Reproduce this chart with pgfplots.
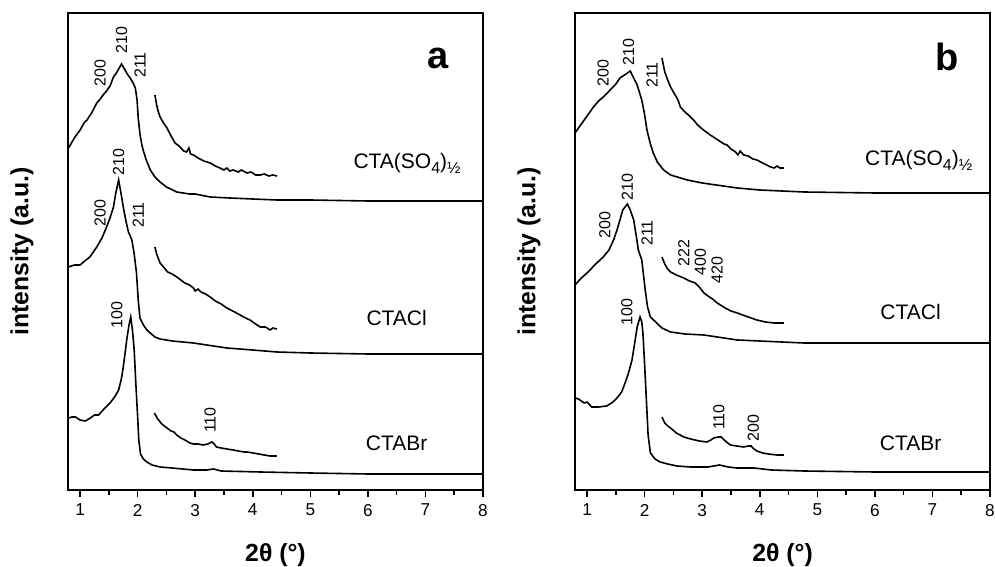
\documentclass[border=0pt]{standalone}
\usepackage{fontspec}
\setmainfont{Liberation Sans}
\usepackage{pgfplots}
\pgfplotsset{compat=1.18}

\pgfplotsset{
  xrd/.style={
    scale only axis, width=207.5pt, height=238.5pt,
    xmin=0.79, xmax=8, ymin=0, ymax=477,
    xtick={1,2,...,8}, minor x tick num=1,
    xtick pos=bottom, ytick=\empty,
    tick align=outside, major tick length=3.5pt, minor tick length=2.5pt,
    axis line style={line width=0.75pt}, every tick/.style={black, line width=0.75pt},
    tick label style={font=\fontsize{8.6}{10}\selectfont},
    /pgf/number format/assume math mode=true,
    xlabel={\textbf{2θ (°)}},
    xlabel style={font=\fontsize{12.4}{14}\selectfont, at={(axis description cs:0.5,-0.136)}, anchor=center},
    ylabel={\textbf{intensity (a.u.)}},
    ylabel style={font=\fontsize{12.4}{14}\selectfont, at={(axis description cs:-0.111,0.5)}, anchor=center},
    clip=false,
    cycle list={{black, solid}},
    every axis plot post/.append style={black, solid, line width=0.8pt, mark=none},
  },
}
\tikzset{
  pk/.style={rotate=90, font=\fontsize{8}{9}\selectfont, inner sep=0pt},
  nm/.style={font=\fontsize{10.5}{12}\selectfont, inner sep=0pt},
  big/.style={font=\fontsize{19}{20}\selectfont\bfseries, inner sep=0pt},
}
\newcommand{\sub}[1]{\raisebox{-0.45ex}{\fontsize{8}{9}\selectfont #1}}

\begin{document}
\begin{tikzpicture}
% ---- panel a ----
\begin{axis}[xrd, name=A, at={(0pt,0pt)}, anchor=south west]
\addplot coordinates {(0.80,342)(0.90,352)(1.00,360)(1.08,368)(1.12,370)(1.20,377)(1.29,387)(1.35,391)(1.40,395)(1.46,399)(1.52,404)(1.58,413)(1.63,417)(1.68,422)(1.72,426)(1.76,422)(1.82,416)(1.87,412)(1.92,407)(1.96,402)(1.99,390)(2.01,372)(2.04,356)(2.07,346)(2.10,339)(2.15,330)(2.22,320)(2.30,313)(2.39,308)(2.50,303)(2.68,298)(2.90,296)(3.00,296)(3.26,293)(3.60,292)(4.00,291)(4.42,290)(5.00,290)(6.00,289)(7.00,289)(8.00,289)};
\addplot coordinates {(2.30,395)(2.33,385)(2.36,378)(2.39,373)(2.45,367)(2.51,362)(2.58,354)(2.65,347)(2.72,344)(2.80,339)(2.85,338)(2.89,342)(2.92,336)(2.97,335)(3.05,332)(3.15,329)(3.26,327)(3.35,324)(3.43,322)(3.50,320)(3.55,322)(3.60,319)(3.66,320)(3.75,318)(3.80,320)(3.90,317)(3.97,318)(4.05,315)(4.13,315)(4.20,316)(4.28,314)(4.35,315)(4.42,314)};
\addplot coordinates {(0.80,223)(0.90,225)(1.00,225)(1.08,229)(1.17,233)(1.23,238)(1.29,243)(1.38,252)(1.46,263)(1.52,272)(1.58,283)(1.62,297)(1.67,310)(1.71,297)(1.75,283)(1.80,268)(1.84,258)(1.90,250)(1.94,236)(1.98,217)(2.01,190)(2.04,172)(2.10,165)(2.16,160)(2.22,157)(2.30,153)(2.39,151)(2.60,149)(2.97,147)(3.20,145)(3.55,142)(4.00,140)(4.42,138)(5.00,137)(6.00,136)(7.00,136)(8.00,136)};
\addplot coordinates {(2.30,243)(2.33,236)(2.39,227)(2.45,223)(2.52,218)(2.60,216)(2.68,213)(2.75,210)(2.82,207)(2.90,205)(2.97,202)(3.00,199)(3.05,201)(3.10,198)(3.18,196)(3.26,193)(3.35,189)(3.45,186)(3.55,182)(3.65,179)(3.75,176)(3.84,173)(3.95,170)(4.05,166)(4.13,163)(4.22,163)(4.30,160)(4.35,162)(4.42,161)};
\addplot coordinates {(0.80,72)(0.86,73)(0.92,73)(1.00,70)(1.09,69)(1.18,72)(1.25,75)(1.32,75)(1.40,80)(1.52,87)(1.60,93)(1.67,100)(1.72,112)(1.75,123)(1.78,136)(1.81,150)(1.85,165)(1.88,173)(1.91,160)(1.94,140)(1.97,105)(2.00,73)(2.02,50)(2.05,36)(2.10,31)(2.16,28)(2.25,25)(2.39,23)(2.60,22)(2.97,20)(3.20,20)(3.32,21)(3.45,19)(4.13,18)(5.00,17)(6.00,16)(8.00,16)};
\addplot coordinates {(2.29,77)(2.35,71)(2.42,66)(2.51,62)(2.58,59)(2.63,58)(2.68,55)(2.75,52)(2.82,50)(2.91,47)(2.97,46)(3.05,46)(3.14,45)(3.22,46)(3.29,48)(3.33,46)(3.37,43)(3.45,42)(3.55,41)(3.66,40)(3.75,39)(3.85,38)(3.90,38)(4.01,37)(4.10,36)(4.20,35)(4.30,34)(4.42,34)};
\node[big] at (axis cs:7.22,432) {a};
\node[nm] at (axis cs:6.68,327) {CTA(SO\sub{4})\sub{½}};
\node[nm] at (axis cs:6.50,172) {CTACl};
\node[nm] at (axis cs:6.50,47) {CTABr};
\node[pk] at (axis cs:1.35,417) {200};
\node[pk] at (axis cs:1.72,450) {210};
\node[pk] at (axis cs:2.04,425) {211};
\node[pk] at (axis cs:1.35,277) {200};
\node[pk] at (axis cs:1.67,328) {210};
\node[pk] at (axis cs:2.01,275) {211};
\node[pk] at (axis cs:1.64,175) {100};
\node[pk] at (axis cs:3.26,70) {110};
\end{axis}
% ---- panel b ----
\begin{axis}[xrd, at={(253.5pt,0pt)}, anchor=south west]
\addplot coordinates {(0.79,357)(0.90,366)(1.00,374)(1.11,383)(1.20,389)(1.30,394)(1.40,400)(1.50,406)(1.57,412)(1.65,415)(1.75,419)(1.80,413)(1.87,405)(1.95,390)(2.00,375)(2.04,360)(2.10,346)(2.15,337)(2.22,328)(2.33,320)(2.45,315)(2.74,310)(3.00,307)(3.61,302)(4.00,300)(4.77,298)(6.00,297)(8.00,297)};
\addplot coordinates {(2.30,432)(2.35,418)(2.40,410)(2.45,403)(2.52,396)(2.58,390)(2.62,383)(2.70,378)(2.78,374)(2.85,370)(2.92,365)(3.00,361)(3.07,358)(3.14,355)(3.22,352)(3.30,349)(3.38,346)(3.43,345)(3.50,341)(3.58,338)(3.62,335)(3.66,339)(3.72,335)(3.80,334)(3.88,331)(3.95,330)(4.05,327)(4.12,325)(4.19,323)(4.25,322)(4.30,324)(4.35,322)(4.42,322)};
\addplot coordinates {(0.79,205)(0.90,212)(1.00,217)(1.05,220)(1.15,226)(1.28,233)(1.38,240)(1.46,250)(1.52,260)(1.57,270)(1.62,280)(1.70,286)(1.75,280)(1.81,270)(1.86,252)(1.89,240)(1.95,230)(1.98,215)(2.01,200)(2.05,183)(2.10,173)(2.21,167)(2.30,162)(2.45,158)(2.70,156)(3.03,155)(3.61,150)(4.00,149)(4.77,147)(6.00,147)(8.00,147)};
\addplot coordinates {(2.30,233)(2.35,226)(2.40,221)(2.45,218)(2.55,215)(2.68,212)(2.78,209)(2.88,207)(2.95,203)(3.03,197)(3.10,194)(3.18,191)(3.26,187)(3.40,182)(3.50,179)(3.61,177)(3.75,174)(3.85,172)(3.95,170)(4.10,168)(4.25,167)(4.42,167)};
\addplot coordinates {(0.79,92)(0.85,91)(0.90,89)(0.95,87)(1.00,88)(1.08,83)(1.20,83)(1.34,84)(1.45,88)(1.52,92)(1.60,98)(1.66,107)(1.72,117)(1.78,130)(1.83,148)(1.87,163)(1.92,173)(1.95,168)(1.97,157)(2.00,125)(2.03,90)(2.06,55)(2.10,37)(2.18,31)(2.27,28)(2.40,26)(2.56,24)(2.80,23)(3.10,23)(3.30,25)(3.45,23)(3.60,22)(3.90,22)(4.20,20)(4.77,19)(6.00,18)(8.00,18)};
\addplot coordinates {(2.30,73)(2.35,67)(2.40,64)(2.45,62)(2.55,57)(2.68,53)(2.80,51)(2.95,49)(3.08,48)(3.15,50)(3.20,52)(3.28,53)(3.33,53)(3.40,49)(3.49,45)(3.60,44)(3.72,43)(3.80,44)(3.85,44)(3.90,41)(3.95,39)(4.05,37)(4.15,36)(4.30,35)(4.42,35)};
\node[big] at (axis cs:7.26,433) {b};
\node[nm] at (axis cs:6.76,330) {CTA(SO\sub{4})\sub{½}};
\node[nm] at (axis cs:6.62,178) {CTACl};
\node[nm] at (axis cs:6.62,47) {CTABr};
\node[pk] at (axis cs:1.28,417) {200};
\node[pk] at (axis cs:1.72,438) {210};
\node[pk] at (axis cs:2.13,415) {211};
\node[pk] at (axis cs:1.31,265) {200};
\node[pk] at (axis cs:1.70,303) {210};
\node[pk] at (axis cs:2.04,257) {211};
\node[pk] at (axis cs:2.68,237) {222};
\node[pk] at (axis cs:2.97,228) {400};
\node[pk] at (axis cs:3.26,220) {420};
\node[pk] at (axis cs:1.69,178) {100};
\node[pk] at (axis cs:3.29,73) {110};
\node[pk] at (axis cs:3.89,62) {200};
\end{axis}
\pgfresetboundingbox
\useasboundingbox (-34pt,-38.5pt) rectangle (463.5pt,245pt);
\end{tikzpicture}
\end{document}
